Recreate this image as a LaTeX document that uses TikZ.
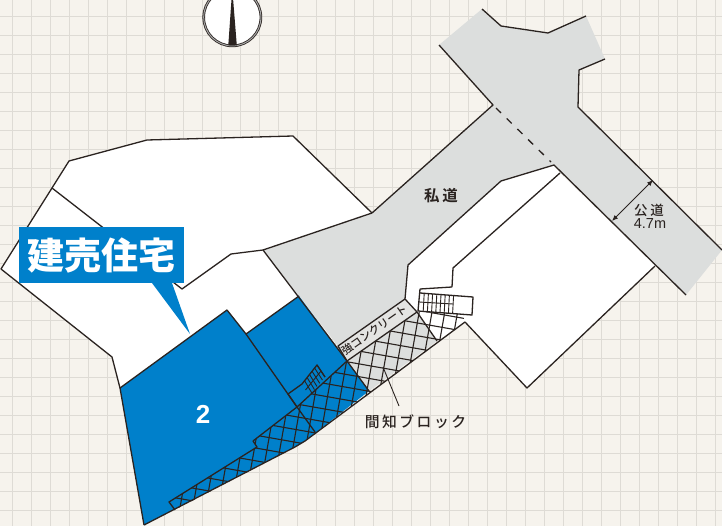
\documentclass[tikz,border=0pt]{standalone}
\usepackage{fontspec}
\usetikzlibrary{arrows.meta}
\setmainfont{Liberation Sans}
\newfontfamily\cjk{Noto Sans CJK JP}
\newfontfamily\cjkmed{Noto Sans CJK JP Medium}
\newfontfamily\cjkwide[LetterSpace=17]{Noto Sans CJK JP Medium}
\newfontfamily\cjkmid[LetterSpace=20]{Noto Sans CJK JP Medium}
\newfontfamily\cjkboldwide[LetterSpace=17]{Noto Sans CJK JP Bold}
\definecolor{paper}{HTML}{F6F3ED}
\definecolor{gridc}{HTML}{DEDBD5}
\definecolor{road}{HTML}{DCDEDD}
\definecolor{lotblue}{HTML}{0080CB}
\definecolor{ink}{HTML}{2A2320}
\tikzset{
  edge/.style={draw=ink,line width=1.3pt,line join=round},
  hatchline/.style={draw=ink,line width=1.1pt},
  thin rung/.style={draw=ink,line width=0.9pt},
  label text/.style={inner sep=0pt,text=ink,align=center}
}
\begin{document}
\begin{tikzpicture}[x=1pt,y=-1pt]
\useasboundingbox (0,0) rectangle (722,526);
\clip (0,0) rectangle (722,526);
\fill[paper] (0,0) rectangle (722,526);
% grid
\foreach \i in {0,...,39} \draw[gridc,line width=1.1pt] ({-6.33+19*\i},0) -- ({-6.33+19*\i},526);
\foreach \i in {0,...,28} \draw[gridc,line width=1.1pt] (0,{-2.33+19*\i}) -- (722,{-2.33+19*\i});
% compass
\fill[white] (232.3,17.3) circle (29);
\draw[ink,line width=2.6pt] (232.3,17.3) circle (28.6);
\draw[gray!70,line width=1pt] (232.3,17.3) circle (28.6);
\fill[ink] (231.6,-2) -- (233,-2) -- (236.8,45.3) -- (228.3,45.3) -- cycle;
% white lots
\fill[white] (1,269) -- (69,161) -- (147,140) -- (293,136) -- (372,213) -- (263,250) -- (299,296) -- (246,334) -- (227,310) -- (120,388) -- (112,357) -- cycle;
\fill[white] (554,165) -- (501,181) -- (408,265) -- (405,299) -- (417,312) -- (437,341) -- (465,322) -- (527,388) -- (655,266) -- (560,173) -- cycle;
% road
\fill[road] (482,9) -- (501,26) -- (548,33) -- (586,16) -- (605,59) -- (579,70) -- (578,107) -- (722,250) -- (686,295) -- (554,165) -- (501,181) -- (408,265) -- (405,299) -- (338,346) -- (263,250) -- (372,213) -- (493,105) -- (439,45) -- cycle;
% strip and gray hatch area
\fill[road!70!paper] (338,346) -- (405,299) -- (417,312) -- (347,361) -- cycle;
\fill[road] (347,361) -- (417,312) -- (437,341) -- (369,391) -- cycle;
% blue lot
\fill[lotblue] (120,388) -- (227,310) -- (246,334) -- (299,296) -- (347,361) -- (369,391) -- (305,441) -- (295,447) -- (144,525) -- cycle;
% hatch
\begin{scope}
\clip (175,510) -- (169,502) -- (257,447) -- (253,441) -- (297,407) -- (347,361) -- (417,312) -- (462,313) -- (465,322) -- (305,441) -- (295,447) -- cycle;
\begin{scope}[shift={(327.5,396.7)},rotate=-10]
\foreach \i in {-20,...,20} {
  \draw[hatchline] ({\i*12.6},-200) -- ({\i*12.6},200);
  \draw[hatchline] (-300,{\i*12.6}) -- (300,{\i*12.6});
}
\end{scope}
\end{scope}
% edges of upper lot
\draw[edge] (120,388) -- (112,357) -- (1,269) -- (69,161) -- (147,140) -- (293,136) -- (372,213) -- (493,105) -- (439,45);
\draw[edge] (52,188) -- (182,289) -- (231,254) -- (263,250) -- (372,213);
\draw[edge] (263,250) -- (347,361) -- (369,391);
\draw[edge] (144,525) -- (120,388) -- (227,310) -- (246,334) -- (299,296);
\draw[edge] (144,525) -- (295,447) -- (305,441) -- (465,322) -- (527,388) -- (655,266);
% road edges
\draw[edge] (482,9) -- (501,26) -- (548,33) -- (586,16);
\draw[edge] (605,59) -- (579,70) -- (578,107) -- (722,250);
\draw[edge] (686,295) -- (554,165) -- (501,181) -- (408,265) -- (405,299) -- (338,346) -- (347,361);
\draw[edge] (405,299) -- (417,312) -- (437,341);
\draw[edge] (560,173) -- (453,268) -- (452,287);
\draw[edge,dash pattern=on 7pt off 8pt] (496,108) -- (551,162);
% lot dividers
\draw[edge] (246,334) -- (297,407) -- (315,432);
\draw[edge] (297,407) -- (347,361) -- (417,312);
\draw[edge] (253,441) -- (297,407);
\draw[edge] (175,510) -- (169,502) -- (257,447) -- (253,441);
% blue lot stairs
\draw[edge] (288,394) -- (297,407);
\draw[edge] (288,394) -- (302,384) -- (317,365) -- (325,377);
\foreach \t in {0.17,0.34,0.5,0.67,0.84,1} {
  \draw[thin rung] ({302+15*\t},{384-19*\t}) -- ({309+16*\t},{396-19*\t});
}
\draw[thin rung] (305.5,390) -- (321,371);
% upper right stairs
\fill[white] (420,289) -- (452,287) -- (453,295) -- (473,297) -- (472,315) -- (453,313) -- (418,311) -- cycle;
\draw[edge] (420,289) -- (452,287);
\draw[edge] (420,293) -- (473,297) -- (472,315) -- (418,311) -- (420,289);
\draw[thin rung] (419,302) -- (453,304);
\foreach \i in {1,...,8} \draw[thin rung] ({420+4.2*\i},{293+.3*\i}) -- ({419+4.2*\i},{311+.3*\i});
% leader
\coordinate (leadA) at (383,367);
\coordinate (leadB) at (399,406);
\draw[draw=ink,line width=0.9pt] (leadA) -- (leadB);
% road arrow
\coordinate (arrowA) at (612,221);
\coordinate (arrowB) at (653,180);
\draw[draw=ink,line width=1pt,{Latex[length=6pt,width=5pt]}-{Latex[length=6pt,width=5pt]}] (arrowA) -- (arrowB);
% callout
\fill[lotblue] (152,283) -- (190,334) -- (172,283) -- cycle;
\node[fill=lotblue,minimum width=165pt,minimum height=56pt,inner sep=0pt,text=white,anchor=center] (callout) at (101.5,255) {\cjk\bfseries\fontsize{37}{37}\selectfont 建売住宅};
% labels
\node[inner sep=0pt,text=white] (lotnum) at (203,414) {\bfseries\fontsize{26}{26}\selectfont 2};
\node[label text] (private) at (441,196) {\cjkboldwide\fontsize{15.5}{15.5}\selectfont 私道};
\node[label text] (public) at (649,210) {\cjkmid\fontsize{13.5}{13.5}\selectfont 公道};
\node[label text] (width) at (650,224) {\fontsize{14.5}{14.5}\selectfont 4.7m};
\node[label text] (block) at (415.5,422) {\cjkwide\fontsize{14.8}{14.8}\selectfont 間知ブロック};
\node[label text,rotate=35] (strip) at (375,330) {\cjkmed\fontsize{11}{11}\selectfont 強コンクリート};
\end{tikzpicture}
\end{document}
